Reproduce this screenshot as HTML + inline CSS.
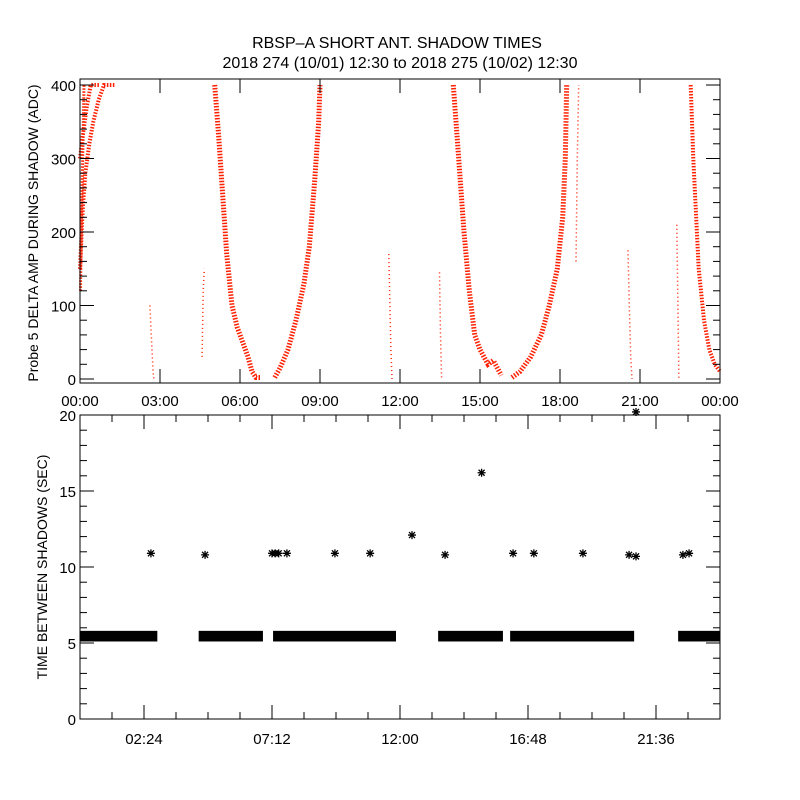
<!DOCTYPE html>
<html><head><meta charset="utf-8"><style>
body{margin:0;background:#fff}
svg{display:block}
text{font-family:"Liberation Sans",sans-serif;fill:#000}
</style></head><body>
<svg id="c" width="800" height="800" viewBox="0 0 800 800" xmlns="http://www.w3.org/2000/svg">
<rect width="800" height="800" fill="#fff"/>
<text x="397" y="48" font-size="16" text-anchor="middle">RBSP–A SHORT ANT. SHADOW TIMES</text>
<text x="400" y="68" font-size="16" text-anchor="middle">2018 274 (10/01) 12:30 to 2018 275 (10/02) 12:30</text>
<g id="topPanel"></g>
<g id="botPanel"></g>
</svg>
<script>
// ---- top panel data (hours, ADC) ----
const traceT = [
 [0,0.1,0.2,0.35,0.5,0.7,0.9,1.1,1.3],
 [0,0.1,0.25,0.4,0.55,0.75],
 [0.02,0.05,0.1,0.15],
 [2.62,2.66,2.7,2.74,2.77],
 [4.58,4.62,4.66],
 [5.05,5.2,5.35,5.5,5.7,5.9,6.1,6.3,6.45,6.6,6.75],
 [7.3,7.5,7.8,8.1,8.4,8.6,8.8,8.95,9.0],
 [11.58,11.62,11.66,11.7],
 [13.48,13.52,13.56],
 [14.0,14.2,14.4,14.6,14.8,15.0,15.3,15.5,15.8],
 [16.2,16.5,16.9,17.3,17.6,17.9,18.1,18.2,18.25],
 [18.6,18.65,18.7],
 [20.55,20.6,20.65,20.7],
 [22.38,22.42,22.46],
 [22.9,23.0,23.2,23.4,23.6,23.8,24.0]
];
const traceV = [
 [150,230,280,320,350,380,400,400,400],
 [300,330,370,400,400,400],
 [120,200,300,400],
 [100,70,40,10,0],
 [30,120,150],
 [400,330,250,170,100,70,50,30,10,2,2],
 [2,15,40,80,130,180,270,350,400],
 [170,100,40,0],
 [145,60,0],
 [400,300,200,120,60,40,20,25,5],
 [2,10,30,60,100,150,220,300,400],
 [160,300,400],
 [175,100,30,0],
 [210,100,0],
 [400,300,150,80,40,20,10]
];
const traceW = [4,4,3,1.5,1.5,5,5,1.5,1.5,5,5,1.5,1.5,1.5,4];
const topYTicks = [0,100,200,300,400];
const topXLabels = ["00:00","03:00","06:00","09:00","12:00","15:00","18:00","21:00","00:00"];
// ---- bottom panel data ----
const bandStart = [0,4.45,7.24,13.43,16.13,22.43];
const bandEnd   = [2.9,6.86,11.85,15.86,20.78,24.0];
const starT = [2.66,4.69,7.2,7.32,7.45,7.76,9.56,10.88,12.45,13.69,15.06,16.24,17.02,18.86,20.59,20.85,20.85,22.61,22.84];
const starV = [10.9,10.8,10.9,10.9,10.9,10.9,10.9,10.9,12.1,10.8,16.2,10.9,10.9,10.9,10.8,10.7,20.2,10.8,10.9];
const botYTicks = [0,5,10,15,20];
const botXLabels = ["02:24","07:12","12:00","16:48","21:36"];

const NS="http://www.w3.org/2000/svg";
function mk(p,tag,at){const e=document.createElementNS(NS,tag);for(const k in at)e.setAttribute(k,at[k]);p.appendChild(e);return e;}
const X0=80,X1=720;
const xs=t=>X0+t*(X1-X0)/24;
// top
const topG=document.getElementById('topPanel');
const ty=v=>379-v*0.735;
for(let i=0;i<traceT.length;i++){
  const pts=traceT[i].map((t,j)=>xs(t).toFixed(1)+","+ty(traceV[i][j]).toFixed(1)).join(" ");
  const w=traceW[i];
  const pl=mk(topG,'polyline',{points:pts,fill:'none',stroke:'#ff2000','stroke-width':w,'stroke-dasharray':w>2?'1.5 1.5':'1 3'});
  
  
}
const tb=mk(topG,'rect',{x:X0,y:79,width:X1-X0,height:304,fill:'none',stroke:'#000','stroke-width':1});


for(let v=0;v<=400;v+=20){const y=ty(v),L=v%100===0?14:7;mk(topG,'line',{x1:X0,x2:X0+L,y1:y,y2:y,stroke:'#000'});mk(topG,'line',{x1:X1,x2:X1-L,y1:y,y2:y,stroke:'#000'});}
topYTicks.forEach(v=>{const t=mk(topG,'text',{x:X0-4,y:ty(v)+6,'font-size':15,'text-anchor':'end'});t.textContent=v;

});
topXLabels.forEach((s,i)=>{const x=xs(i*3);mk(topG,'line',{x1:x,x2:x,y1:383,y2:369,stroke:'#000'});mk(topG,'line',{x1:x,x2:x,y1:79,y2:93,stroke:'#000'});const t=mk(topG,'text',{x:x,y:406,'font-size':15,'text-anchor':'middle'});t.textContent=s;

});
const yt=mk(topG,'text',{x:0,y:0,'font-size':14,'text-anchor':'middle',transform:'translate(38,233) rotate(-90)'});yt.textContent="Probe 5 DELTA AMP DURING SHADOW (ADC)";


// bottom
const botG=document.getElementById('botPanel');
const by=v=>719-v*15.2;
for(let i=0;i<bandStart.length;i++){const r=mk(botG,'rect',{x:xs(bandStart[i]),y:by(5.8),width:xs(bandEnd[i])-xs(bandStart[i]),height:by(5.1)-by(5.8),fill:'#000'});
 
 }
for(let i=0;i<starT.length;i++){
 const cx=xs(starT[i]),cy=by(starV[i]),r=4;
 const d=`M${cx-r},${cy}H${cx+r}M${cx},${cy-r}V${cy+r}M${cx-3},${cy-3}L${cx+3},${cy+3}M${cx-3},${cy+3}L${cx+3},${cy-3}`;
 const s=mk(botG,'path',{d:d,stroke:'#000','stroke-width':1.3,fill:'none'});
 
 }
const bb=mk(botG,'rect',{x:X0,y:by(20),width:X1-X0,height:by(0)-by(20),fill:'none',stroke:'#000'});


for(let v=0;v<=20;v+=1){const y=by(v),L=v%5===0?14:7;mk(botG,'line',{x1:X0,x2:X0+L,y1:y,y2:y,stroke:'#000'});mk(botG,'line',{x1:X1,x2:X1-L,y1:y,y2:y,stroke:'#000'});}
for(let k=0;k<=20;k++){const x=xs(k*1.2),L=k%4===2?14:7;mk(botG,'line',{x1:x,x2:x,y1:719,y2:719-L,stroke:'#000'});mk(botG,'line',{x1:x,x2:x,y1:415,y2:415+L,stroke:'#000'});}
botYTicks.forEach(v=>{const t=mk(botG,'text',{x:X0-4,y:by(v)+6,'font-size':15,'text-anchor':'end'});t.textContent=v;

});
botXLabels.forEach((s,i)=>{const t=mk(botG,'text',{x:xs(2.4+i*4.8),y:744,'font-size':15,'text-anchor':'middle'});t.textContent=s;

});
const y2=mk(botG,'text',{x:0,y:0,'font-size':14,'text-anchor':'middle',transform:'translate(47,567) rotate(-90)'});y2.textContent="TIME BETWEEN SHADOWS (SEC)";


</script>
</body></html>
